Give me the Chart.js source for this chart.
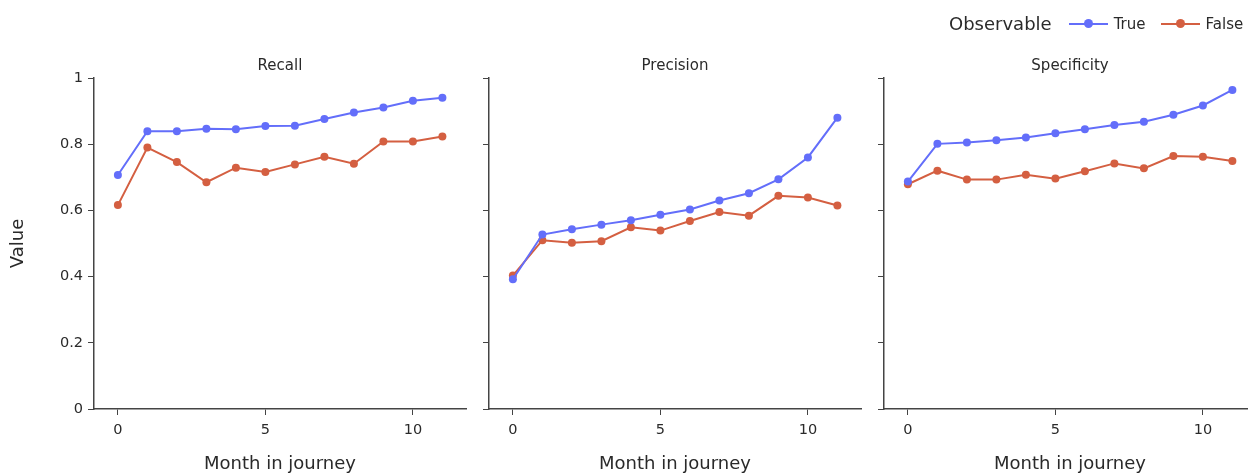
<!DOCTYPE html>
<html>
<head>
<meta charset="utf-8">
<script src="https://cdn.jsdelivr.net/npm/chart.js@4"></script>
<style>
  html, body { margin: 0; padding: 0; background: #fff; overflow: hidden; }
  #wrap { position: relative; width: 1248px; height: 475px; overflow: hidden; }
  canvas { position: absolute; top: 0; }
  #legend { position: absolute; top: 13px; left: 949px; font-family: "DejaVu Sans", Verdana, sans-serif; color: #2a2a2a; white-space: nowrap; }
  #legend span { display: inline-block; vertical-align: middle; }
  .ltitle { font-size: 18px; margin-right: 17px; }
  .lsym { position: relative; width: 39px; height: 2px; margin-right: 6px; }
  .lsym::after { content: ''; position: absolute; left: 15px; top: -3.5px; width: 9px; height: 9px; border-radius: 50%; background: inherit; }
  .ltext { font-size: 15px; margin-right: 15px; }
</style>
</head>
<body>
<div id="wrap">
  <canvas id="recall" width="480" height="475" style="left:0px"></canvas>
  <canvas id="precision" width="480" height="475" style="left:395px"></canvas>
  <canvas id="specificity" width="480" height="475" style="left:790px"></canvas>
  <div id="legend">
    <span class="ltitle">Observable</span><span class="lsym" style="background:#636efa"></span><span class="ltext">True</span><span class="lsym" style="background:#d45f41"></span><span class="ltext">False</span>
  </div>
</div>
<script>
// ── Data ────────────────────────────────────────────────────────────────────

const months = [0, 1, 2, 3, 4, 5, 6, 7, 8, 9, 10, 11];

const recallTrue       = [0.707, 0.839, 0.839, 0.847, 0.845, 0.855, 0.856, 0.876, 0.896, 0.911, 0.931, 0.940];
const recallFalse      = [0.616, 0.790, 0.746, 0.685, 0.729, 0.716, 0.739, 0.762, 0.741, 0.808, 0.808, 0.823];
const precisionTrue    = [0.392, 0.527, 0.543, 0.557, 0.570, 0.587, 0.603, 0.630, 0.652, 0.694, 0.760, 0.880];
const precisionFalse   = [0.403, 0.510, 0.502, 0.507, 0.549, 0.539, 0.568, 0.595, 0.584, 0.644, 0.639, 0.615];
const specificityTrue  = [0.687, 0.801, 0.805, 0.812, 0.820, 0.833, 0.845, 0.858, 0.868, 0.889, 0.917, 0.964];
const specificityFalse = [0.679, 0.720, 0.693, 0.693, 0.708, 0.696, 0.718, 0.742, 0.727, 0.764, 0.762, 0.749];

const seriesLabels = ['True', 'False'];
const xTitle = 'Month in journey';
const yTitle = 'Value';

// ── Styling ─────────────────────────────────────────────────────────────────

const FONT     = '"DejaVu Sans", Verdana, sans-serif';
const axisCol  = '#444';
const textCol  = '#2a2a2a';
const blue     = '#636efa';
const red      = '#d45f41';

Chart.defaults.font.family = FONT;
Chart.defaults.color = textCol;

// Facet title, centred over the plot area (not the whole canvas)
Chart.register({
  id: 'panelTitle',
  afterDraw(chart, args, opts) {
    if (!opts.text) return;
    const { ctx, chartArea } = chart;
    ctx.save();
    ctx.font = `15px ${FONT}`;
    ctx.fillStyle = textCol;
    ctx.textAlign = 'center';
    ctx.textBaseline = 'middle';
    ctx.fillText(opts.text, (chartArea.left + chartArea.right) / 2, chartArea.top - 12);
    ctx.restore();
  },
});

function series(label, ys, color) {
  return {
    label,
    data: months.map((m, i) => ({ x: m, y: ys[i] })),
    borderColor: color,
    backgroundColor: color,
    borderWidth: 2,
    pointRadius: 4,
    pointBorderWidth: 0,
    tension: 0,
  };
}

function panel(id, title, trueVals, falseVals, showY) {
  return new Chart(document.getElementById(id), {
    type: 'line',
    data: {
      datasets: [
        series(seriesLabels[0], trueVals, blue),
        series(seriesLabels[1], falseVals, red),
      ],
    },
    options: {
      responsive: false,
      animation: false,
      layout: { padding: { left: 0, right: 14, top: 78, bottom: 0 } },
      plugins: {
        legend: { display: false },
        tooltip: { enabled: false },
        panelTitle: { text: title },
      },
      scales: {
        x: {
          type: 'linear',
          min: -0.81,
          max: 11.8,
          grid: { drawOnChartArea: false, drawTicks: true, tickLength: 6, color: axisCol, lineWidth: 1 },
          border: { display: true, color: axisCol, width: 1.5 },
          ticks: { stepSize: 5, includeBounds: false, padding: 7, color: textCol, font: { size: 14.5 } },
          title: { display: true, text: xTitle, color: textCol, font: { size: 18 }, padding: { top: 4, bottom: 0 } },
          afterFit: s => { s.height = 66; },
        },
        y: {
          min: 0,
          max: 1,
          grid: { drawOnChartArea: false, drawTicks: true, tickLength: 6, color: axisCol, lineWidth: 1 },
          border: { display: true, color: axisCol, width: 1.5 },
          ticks: {
            display: showY, stepSize: 0.2, padding: 5, color: textCol, font: { size: 14.5 },
            callback: v => String(Number(v.toFixed(2))),
          },
          title: { display: showY, text: yTitle, color: textCol, font: { size: 18 }, padding: { top: 8, bottom: 0 } },
          afterFit: s => { s.width = 94; },
        },
      },
    },
  });
}

panel('recall',      'Recall',      recallTrue,      recallFalse,      true);
panel('precision',   'Precision',   precisionTrue,   precisionFalse,   false);
panel('specificity', 'Specificity', specificityTrue, specificityFalse, false);
</script>
</body>
</html>
